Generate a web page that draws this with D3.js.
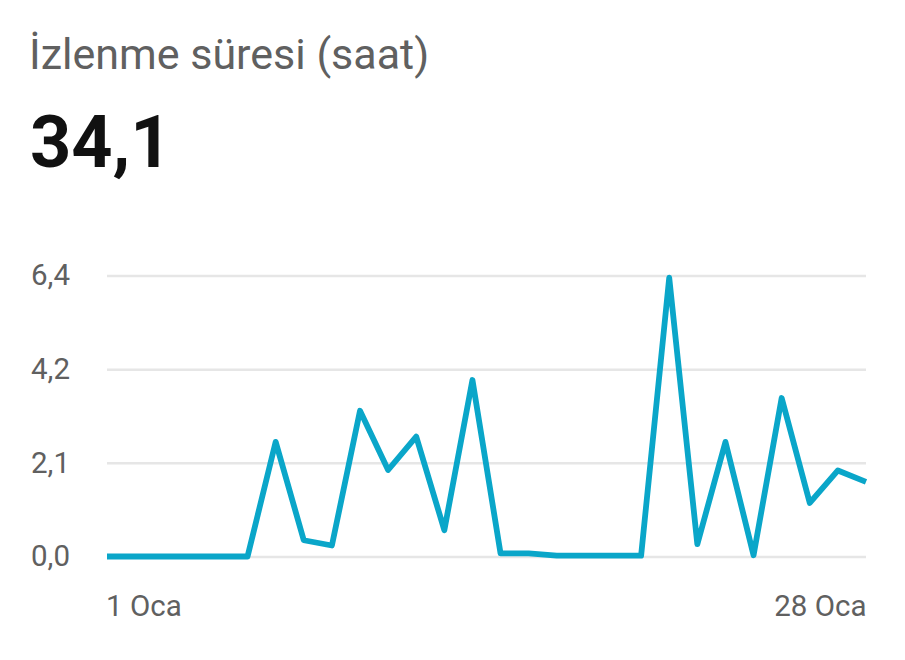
<!DOCTYPE html>
<html>
<head>
<meta charset="utf-8">
<script src="https://cdn.jsdelivr.net/npm/d3@7"></script>
<style>
  html, body { margin: 0; padding: 0; background: #fff; }
  svg { display: block; font-family: Roboto, "Noto Sans", sans-serif; }
</style>
</head>
<body>
<svg id="chart" width="905" height="660"></svg>
<script>
const titleText = "İzlenme süresi (saat)";
const totalText = "34,1";
const days = ["1 Oca","2 Oca","3 Oca","4 Oca","5 Oca","6 Oca","7 Oca","8 Oca","9 Oca","10 Oca",
  "11 Oca","12 Oca","13 Oca","14 Oca","15 Oca","16 Oca","17 Oca","18 Oca","19 Oca","20 Oca",
  "21 Oca","22 Oca","23 Oca","24 Oca","25 Oca","26 Oca","27 Oca","28 Oca"];
const hours = [0,0,0,0,0,0,2.61,0.37,0.25,3.32,1.97,2.73,0.6,4.02,0.07,0.07,0.02,0.02,0.02,0.02,
  6.35,0.28,2.61,0.03,3.61,1.22,1.96,1.7];
const yTickValues = [0, 6.4/3, 12.8/3, 6.4];
const yTickLabels = ["0,0","2,1","4,2","6,4"];
const xTickLabels = ["1 Oca","28 Oca"];

const svg = d3.select("#chart");
const pLeft = 107, pRight = 866, pTop = 275.5, pBottom = 556.5;

const x = d3.scalePoint().domain(days).range([pLeft, pRight]);
const y = d3.scaleLinear().domain([0, 6.4]).range([pBottom, pTop]);

svg.append("text").attr("x", 29).attr("y", 69)
  .attr("font-size", 43).attr("fill", "#606060").text(titleText);
svg.append("text").attr("x", 30).attr("y", 167)
  .attr("font-size", 72).attr("font-weight", 700).attr("fill", "#111").text(totalText);

const yAxis = d3.axisLeft(y).tickValues(yTickValues)
  .tickFormat((d, i) => yTickLabels[i]).tickSize(-(pRight - pLeft)).tickPadding(37);
const gy = svg.append("g").attr("transform", `translate(${pLeft},0)`).call(yAxis);
gy.select(".domain").remove();
gy.selectAll(".tick line").attr("stroke", "#e6e6e6").attr("stroke-width", 2.5);
gy.selectAll(".tick text").attr("font-size", 29.5).attr("fill", "#606060")
  .attr("font-family", "Roboto, sans-serif");

const xAxis = d3.axisBottom(x).tickValues([days[0], days[days.length - 1]])
  .tickFormat((d, i) => xTickLabels[i]).tickSize(0).tickPadding(0);
const gx = svg.append("g").attr("transform", `translate(0,${pBottom})`).call(xAxis);
gx.select(".domain").remove();
gx.selectAll(".tick text").attr("font-size", 29.5).attr("fill", "#606060")
  .attr("font-family", "Roboto, sans-serif").attr("dy", null).attr("y", 59.5)
  .attr("dx", (d, i) => i === 0 ? -1.5 : 0)
  .attr("text-anchor", (d, i) => i === 0 ? "start" : "end");

const line = d3.line().x((d, i) => x(days[i])).y(d => y(d));
svg.append("path").datum(hours).attr("d", line)
  .attr("fill", "none").attr("stroke", "#0aa6c9").attr("stroke-width", 5.8)
  .attr("stroke-linejoin", "round").attr("stroke-linecap", "butt");
</script>
</body>
</html>
